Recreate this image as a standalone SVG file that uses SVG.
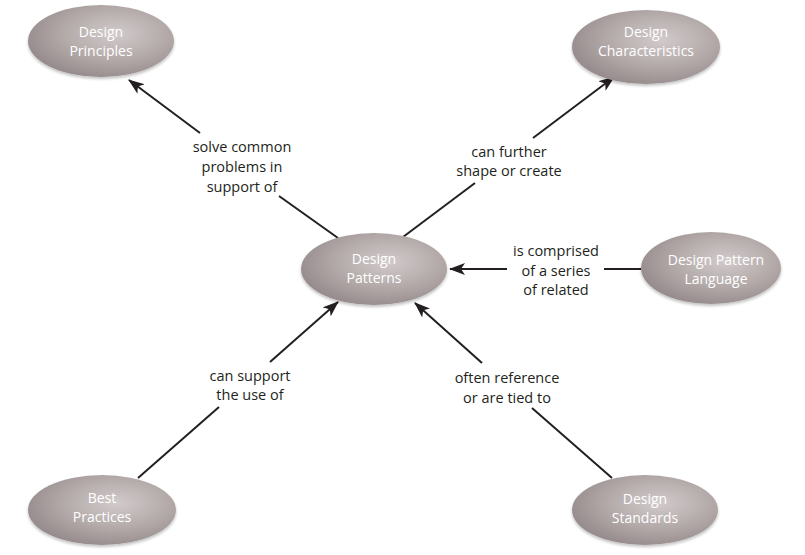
<svg xmlns="http://www.w3.org/2000/svg" width="805" height="555" viewBox="0 0 805 555">
<defs>
<radialGradient id="g" cx="0.6" cy="0.4" r="0.65">
<stop offset="0" stop-color="#d2cbcb"/>
<stop offset="0.6" stop-color="#b0a6a6"/>
<stop offset="1" stop-color="#958a8b"/>
</radialGradient>
<marker id="ah" viewBox="0 0 16 12" refX="15" refY="6" markerWidth="16" markerHeight="12" markerUnits="userSpaceOnUse" orient="auto">
<path d="M0,0 L16,6 L0,12 L4,6 Z" fill="#231f20"/>
</marker>
<filter id="sh" x="-10%" y="-10%" width="120%" height="130%">
<feGaussianBlur in="SourceAlpha" stdDeviation="1.5"/>
<feOffset dx="0" dy="2" result="b"/>
<feComponentTransfer><feFuncA type="linear" slope="0.25"/></feComponentTransfer>
<feMerge><feMergeNode/><feMergeNode in="SourceGraphic"/></feMerge>
</filter>
</defs>
<style>
.n ellipse{fill:url(#g);filter:url(#sh)}
.n text{fill:#ffffff;font-family:"Open Sans","Liberation Sans",sans-serif;font-size:14px;text-anchor:middle}
.c line{stroke:#231f20;stroke-width:2}
.c text{fill:#231f20;font-family:"Open Sans","Liberation Sans",sans-serif;font-size:14.5px;text-anchor:middle}
</style>
<rect width="805" height="555" fill="#ffffff"/>
<g id="connectors" class="c">
<line x1="200" y1="133" x2="129" y2="80" marker-end="url(#ah)"/>
<line x1="338" y1="238" x2="279" y2="196"/>
<text x="242" y="152">solve common</text>
<text x="242" y="172">problems in</text>
<text x="242" y="192">support of</text>
<line x1="403" y1="237" x2="475" y2="183"/>
<line x1="533" y1="138" x2="614" y2="77" marker-end="url(#ah)"/>
<text x="509" y="157">can further</text>
<text x="509" y="176">shape or create</text>
<line x1="641" y1="269" x2="604" y2="269"/>
<line x1="507" y1="269" x2="450" y2="269" marker-end="url(#ah)"/>
<text x="556" y="256">is comprised</text>
<text x="556" y="276">of a series</text>
<text x="556" y="295">of related</text>
<line x1="138" y1="478" x2="219" y2="407"/>
<line x1="270" y1="362" x2="338" y2="302" marker-end="url(#ah)"/>
<text x="250" y="381">can support</text>
<text x="250" y="400">the use of</text>
<line x1="612" y1="478" x2="532" y2="408"/>
<line x1="482" y1="363" x2="415" y2="303" marker-end="url(#ah)"/>
<text x="507" y="383">often reference</text>
<text x="507" y="403">or are tied to</text>
</g>
<g id="design-principles" class="n">
<ellipse cx="101" cy="41" rx="73" ry="36"/>
<text x="101" y="37">Design</text>
<text x="101" y="56">Principles</text>
</g>
<g id="design-characteristics" class="n">
<ellipse cx="646" cy="47" rx="74" ry="37"/>
<text x="646" y="37">Design</text>
<text x="646" y="56">Characteristics</text>
</g>
<g id="design-patterns" class="n">
<ellipse cx="374" cy="269" rx="73" ry="36"/>
<text x="374" y="264">Design</text>
<text x="374" y="283">Patterns</text>
</g>
<g id="design-pattern-language" class="n">
<ellipse cx="711" cy="268" rx="70" ry="36"/>
<text x="716" y="265">Design Pattern</text>
<text x="716" y="284">Language</text>
</g>
<g id="best-practices" class="n">
<ellipse cx="102" cy="510" rx="74" ry="35"/>
<text x="102" y="503">Best</text>
<text x="102" y="522">Practices</text>
</g>
<g id="design-standards" class="n">
<ellipse cx="645" cy="510" rx="73" ry="35"/>
<text x="645" y="504">Design</text>
<text x="645" y="523">Standards</text>
</g>
</svg>
